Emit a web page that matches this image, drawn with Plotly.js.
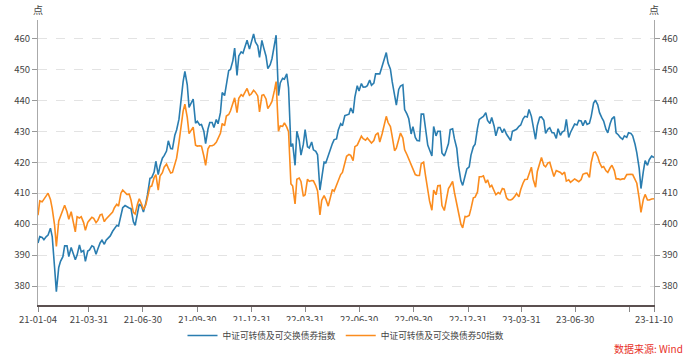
<!DOCTYPE html>
<html><head><meta charset="utf-8">
<script src="https://cdn.plot.ly/plotly-3.0.1.min.js"></script>
<style>html,body{margin:0;padding:0;background:#fff}#c{width:693px;height:362px}</style>
</head><body><div id="c"></div>
<script>
const dates = [
"2021-01-04","2021-01-07","2021-01-11","2021-01-14","2021-01-18","2021-01-21","2021-01-25","2021-01-28","2021-02-01","2021-02-04",
"2021-02-08","2021-02-11","2021-02-15","2021-02-18","2021-02-22","2021-02-25","2021-03-01","2021-03-04","2021-03-08","2021-03-11",
"2021-03-15","2021-03-18","2021-03-22","2021-03-25","2021-03-29","2021-04-01","2021-04-05","2021-04-08","2021-04-12","2021-04-15",
"2021-04-19","2021-04-22","2021-04-26","2021-04-29","2021-05-03","2021-05-06","2021-05-10","2021-05-13","2021-05-17","2021-05-20",
"2021-05-24","2021-05-27","2021-05-31","2021-06-03","2021-06-07","2021-06-10","2021-06-14","2021-06-17","2021-06-21","2021-06-24",
"2021-06-28","2021-07-01","2021-07-05","2021-07-08","2021-07-12","2021-07-15","2021-07-19","2021-07-22","2021-07-26","2021-07-29",
"2021-08-02","2021-08-05","2021-08-09","2021-08-12","2021-08-16","2021-08-19","2021-08-23","2021-08-26","2021-08-30","2021-09-02",
"2021-09-06","2021-09-09","2021-09-13","2021-09-16","2021-09-20","2021-09-23","2021-09-27","2021-09-30","2021-10-04","2021-10-07",
"2021-10-11","2021-10-14","2021-10-18","2021-10-21","2021-10-25","2021-10-28","2021-11-01","2021-11-04","2021-11-08","2021-11-11",
"2021-11-15","2021-11-18","2021-11-22","2021-11-25","2021-11-29","2021-12-02","2021-12-06","2021-12-09","2021-12-13","2021-12-16",
"2021-12-20","2021-12-23","2021-12-27","2021-12-30","2022-01-03","2022-01-06","2022-01-10","2022-01-13","2022-01-17","2022-01-20",
"2022-01-24","2022-01-27","2022-01-31","2022-02-03","2022-02-07","2022-02-10","2022-02-14","2022-02-17","2022-02-21","2022-02-24",
"2022-02-28","2022-03-03","2022-03-07","2022-03-10","2022-03-14","2022-03-17","2022-03-21","2022-03-24","2022-03-28","2022-03-31",
"2022-04-04","2022-04-07","2022-04-11","2022-04-14","2022-04-18","2022-04-21","2022-04-25","2022-04-28","2022-05-02","2022-05-05",
"2022-05-09","2022-05-12","2022-05-16","2022-05-19","2022-05-23","2022-05-26","2022-05-30","2022-06-02","2022-06-06","2022-06-09",
"2022-06-13","2022-06-16","2022-06-20","2022-06-23","2022-06-27","2022-06-30","2022-07-04","2022-07-07","2022-07-11","2022-07-14",
"2022-07-18","2022-07-21","2022-07-25","2022-07-28","2022-08-01","2022-08-04","2022-08-08","2022-08-11","2022-08-15","2022-08-18",
"2022-08-22","2022-08-25","2022-08-29","2022-09-01","2022-09-05","2022-09-08","2022-09-12","2022-09-15","2022-09-19","2022-09-22",
"2022-09-26","2022-09-29","2022-10-03","2022-10-06","2022-10-10","2022-10-13","2022-10-17","2022-10-20","2022-10-24","2022-10-27",
"2022-10-31","2022-11-03","2022-11-07","2022-11-10","2022-11-14","2022-11-17","2022-11-21","2022-11-24","2022-11-28","2022-12-01",
"2022-12-05","2022-12-08","2022-12-12","2022-12-15","2022-12-19","2022-12-22","2022-12-26","2022-12-29","2023-01-02","2023-01-05",
"2023-01-09","2023-01-12","2023-01-16","2023-01-19","2023-01-23","2023-01-26","2023-01-30","2023-02-02","2023-02-06","2023-02-09",
"2023-02-13","2023-02-16","2023-02-20","2023-02-23","2023-02-27","2023-03-02","2023-03-06","2023-03-09","2023-03-13","2023-03-16",
"2023-03-20","2023-03-23","2023-03-27","2023-03-30","2023-04-03","2023-04-06","2023-04-10","2023-04-13","2023-04-17","2023-04-20",
"2023-04-24","2023-04-27","2023-05-01","2023-05-04","2023-05-08","2023-05-11","2023-05-15","2023-05-18","2023-05-22","2023-05-25",
"2023-05-29","2023-06-01","2023-06-05","2023-06-08","2023-06-12","2023-06-15","2023-06-19","2023-06-22","2023-06-26","2023-06-29",
"2023-07-03","2023-07-06","2023-07-10","2023-07-13","2023-07-17","2023-07-20","2023-07-24","2023-07-27","2023-07-31","2023-08-03",
"2023-08-07","2023-08-10","2023-08-14","2023-08-17","2023-08-21","2023-08-24","2023-08-28","2023-08-31","2023-09-04","2023-09-07",
"2023-09-11","2023-09-14","2023-09-18","2023-09-21","2023-09-25","2023-09-28","2023-10-02","2023-10-05","2023-10-09","2023-10-12",
"2023-10-16","2023-10-19","2023-10-23","2023-10-26","2023-10-30","2023-11-02","2023-11-06","2023-11-09","2023-11-10"
];
const indexAll = [
393.9,396,395.7,395,396,396.5,398.7,396,386,378.2,
386,388,389.5,393,393,389.5,392.5,391,388.5,390,
393.3,391,391.5,388,391.3,391.7,393,392.7,390.3,392,
394,394.8,393.5,394.8,395.6,396.2,397.7,398.6,399.6,399.4,
403,405.3,406,405.6,405.2,405,400.8,399.6,403,406.5,
405.7,403.9,406.8,409.6,414.8,415,416.8,420.3,416,418.8,
421.3,422.1,423.6,426.9,424.4,424.3,428.7,430.4,433.9,440,
446,449.3,445,437.7,439.3,440.4,432.6,433.2,432,432.2,
430,426,430.7,432.8,432.8,431.2,433.8,432.4,436,442.5,
441.5,444.5,449.6,449.9,452.8,456.8,448,454.3,455.6,455.2,
457.5,459.4,456.5,458.8,461.4,458.8,457.6,453.8,459.3,457,
454.2,450.2,451.5,453.4,457.8,461,441.5,445.6,447.1,446.8,
448.5,444,425,426,419,430,427,422.3,425.8,430.5,
425,424.6,426.5,424,423.5,422.4,411,415,420,419.8,
422.2,423.4,426,427.3,427.5,430.4,432.4,431.8,435,435.2,
435.5,437.5,435.8,441,444.7,443,445.4,444.2,444.3,444.7,
446.5,444.8,445.5,448.5,448.4,448.5,451,453,455.4,452,
450,446,442.2,438.4,443.5,444.6,445,437,435.5,434,
429.1,431.5,428,427,426.9,435.5,435.5,430.5,425.5,424,
422,431.5,428.5,430,430,423,422,423.6,426,430.5,
430.8,427.6,424.5,418.8,414,412.5,415.2,417.8,418.5,422.3,
425,425.8,431,433.8,434.4,434.8,436,433.5,432.5,434.4,
431.7,428.5,431.2,431.2,429.5,430.8,429,428,427,430,
430.5,430.6,431.6,432,434,434.8,434.6,437,434.8,432,
427.4,431.8,434.5,434.6,433.5,429.3,430.7,431.1,429.5,429.5,
427.7,430.8,428.7,429.7,430.2,433.8,428,429.6,431.5,432.3,
432,433.5,433.3,431.8,433.5,432.2,432.6,434.8,439.1,440,
438.5,436,434.3,433.3,430.6,429.5,432.5,434,434.7,429.5,
428.8,428,427.4,428.5,428,429.5,429.3,428.5,425.8,423,
418,411.5,417,420.5,419,420.8,422,421.7,421.5
];
const index50 = [
402.9,407.5,407.2,408,408.8,410,408,405,399.7,392.8,
401,402.5,404,406.1,404,401.6,404,401.3,397.5,402.4,
402,402.4,400.5,398,400.6,401.3,402.2,401.9,400.5,401.2,
403,403.2,400.8,401.7,402.5,403.1,403.9,405.3,406.4,405.8,
410,411,410.3,409.6,409.7,407.8,403.8,403.3,406.5,408.2,
406.4,404.7,406.2,409.3,412.1,412.3,415,416,411,415.5,
416.6,418.4,419.4,418.1,416.5,416.7,419.2,421.3,426.4,430.8,
436.5,438.7,434.5,429.2,430.2,431.3,425.5,425.2,425.3,425.2,
422,419,424.3,425.3,425.3,425.6,426.4,427.5,429.3,432.5,
431.8,434.9,435.4,436.6,439.5,440.8,436,440.6,441.8,441.3,
442.8,443.8,441.6,442,443.2,442.6,441.4,436.2,441.6,441.8,
440.4,437.3,438.5,439.6,443,446,430,431.7,431.6,432.7,
431.3,429.8,413,412.3,406.5,414.5,414.9,413.8,409,409.5,
414.5,413.8,414.1,414,412.4,410.7,403,407.7,409.2,408,
405.8,408,411.2,410.6,412.8,414.4,416,416.7,419.5,421.9,
422.5,422.2,420.5,425,425.5,427,428.4,427.6,427.1,427.8,
426.9,426.2,427,428.8,429.5,426.5,429.2,432,434.8,432.8,
431.5,428.3,423.7,424.5,427.8,429.4,427.8,424,422.4,421,
418.9,417.8,416,415.7,415.7,419.5,420,416,411,407.5,
404.5,411,409.5,412.4,412.5,406,404.4,407,411.5,412.4,
413.8,410.3,406.5,404.4,400,398.8,402.5,402.4,402.8,405,
408.5,408.7,410.4,415.3,415.3,415.6,413.3,414.3,412,412.5,
410.5,409.5,410.2,409.8,411.5,411.3,408.5,407.9,407.8,408.1,
409,409.9,408.8,411.2,413.3,414.4,414.5,416.3,418.4,414.5,
411.9,417,419.2,421.5,419,418.5,419.8,420,417.3,415.4,
417.3,417,416.7,416.1,416.8,413.9,414.3,413.5,414,414.6,
414.1,413.7,414.4,416.1,416.4,416.5,415.1,419.9,423.1,423.3,
421.8,419.9,418.3,418.6,417.2,416.7,418.2,419,417.3,414.6,
414.6,414.4,414.6,414.6,416,416.1,416.1,416,414.6,413.2,
408.3,403.8,408,409.6,407.8,407.8,408.1,408.2,408.2
];
const seriesNames = ["中证可转债及可交换债券指数","中证可转债及可交换债券50指数"];
const xTickVals = ["2021-01-04","2021-03-31","2021-06-30","2021-09-30","2021-12-31","2022-03-31","2022-06-30","2022-09-30","2022-12-31","2023-03-31","2023-06-30","2023-09-30","2023-11-10"];
const xTickText = ["21-01-04","21-03-31","21-06-30","21-09-30","21-12-31","22-03-31","22-06-30","22-09-30","22-12-31","23-03-31","23-06-30","","23-11-10"];
const yTicks = [380,390,400,410,420,430,440,450,460];
const yUnit = "点";
const source = "数据来源: Wind";

const FONT = "'Noto Sans CJK SC','Noto Sans',sans-serif";
const yRange = [373.9, 465.9];
const traces = [
  {x: dates, y: indexAll, name: seriesNames[0], type: "scatter", mode: "lines",
   line: {color: "#2a7db0", width: 1.6}, yaxis: "y"},
  {x: dates, y: index50, name: seriesNames[1], type: "scatter", mode: "lines",
   line: {color: "#fb8c1e", width: 1.6}, yaxis: "y2"}
];
const yCommon = {
  range: yRange, tickmode: "array", tickvals: yTicks, ticks: "outside", ticklen: 5,
  tickcolor: "#999", showline: true, linecolor: "#aaa", linewidth: 1, zeroline: false,
  tickfont: {size: 9.5, color: "#444", family: FONT}, fixedrange: true
};
const layout = {
  width: 693, height: 362,
  margin: {l: 38, r: 38.5, t: 20, b: 54.7},
  paper_bgcolor: "#fff", plot_bgcolor: "#fff",
  font: {family: FONT, size: 9.5, color: "#444"},
  showlegend: true,
  legend: {orientation: "h", x: 0.5, xanchor: "center", y: -0.107, yanchor: "middle",
    font: {size: 8.7, color: "#444", family: FONT}, itemwidth: 30, tracegroupgap: 0},
  xaxis: {type: "date", range: ["2021-01-04", "2023-11-10"], tickmode: "array",
    tickvals: xTickVals, ticktext: xTickText, ticks: "outside", ticklen: 5, tickcolor: "#888",
    showline: true, linecolor: "#5b5050", linewidth: 2, showgrid: false, zeroline: false,
    tickfont: {size: 9.5, color: "#444", family: FONT}},
  yaxis: Object.assign({}, yCommon, {side: "left", showgrid: true, gridcolor: "#e3e3e3", griddash: "dash", gridwidth: 1}),
  yaxis2: Object.assign({}, yCommon, {side: "right", overlaying: "y", showgrid: false}),
  annotations: [
    {text: yUnit, xref: "paper", yref: "paper", x: 0, y: 1.038, xanchor: "center", yanchor: "middle",
     showarrow: false, font: {size: 10, color: "#444", family: FONT}},
    {text: yUnit, xref: "paper", yref: "paper", x: 1, y: 1.038, xanchor: "center", yanchor: "middle",
     showarrow: false, font: {size: 10, color: "#444", family: FONT}},
    {text: source, xref: "paper", yref: "paper", x: 1.05, y: -0.152, xanchor: "right", yanchor: "middle",
     showarrow: false, font: {size: 10, color: "#e8302a", family: FONT}}
  ]
};
Plotly.newPlot("c", traces, layout, {staticPlot: true, displayModeBar: false});
</script>
</body></html>
